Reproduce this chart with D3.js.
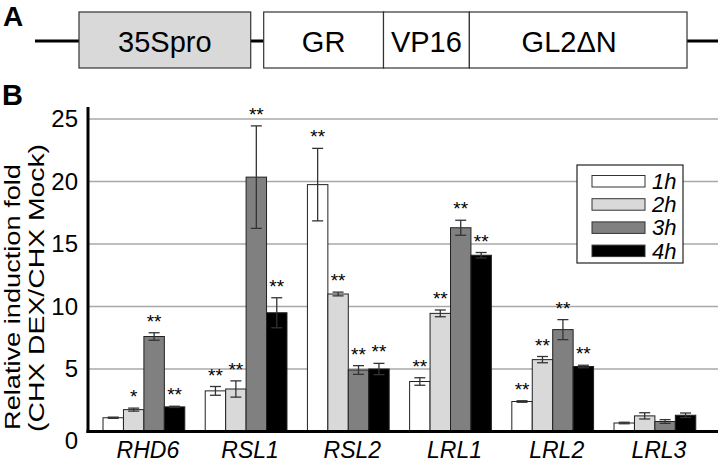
<!DOCTYPE html>
<meta charset="utf-8">
<script src="https://d3js.org/d3.v7.min.js"></script>
<style>
  body { margin: 0; background: #fff; }
  text { font-family: "Liberation Sans", Arial, Helvetica, sans-serif; }
</style>
<div id="chart"></div>
<script>

// construct (panel A): segment names and their relative lengths
var segments = ["35Spro", "GR", "VP16", "GL2\u0394N"];
var segmentLengths = [172, 120, 86, 218];

// panel B data
var genes = ["RHD6", "RSL1", "RSL2", "LRL1", "LRL2", "LRL3"];
var series = ["1h", "2h", "3h", "4h"];

var values1h = [1.1, 3.25, 19.75, 4.0, 2.4, 0.68];
var values2h = [1.75, 3.4, 11.0, 9.45, 5.75, 1.25];
var values3h = [7.6, 20.35, 4.92, 16.3, 8.15, 0.8];
var values4h = [1.97, 9.5, 5.0, 14.1, 5.2, 1.3];

var err1h = [0.05, 0.35, 2.9, 0.3, 0.06, 0.06];
var err2h = [0.12, 0.65, 0.15, 0.27, 0.25, 0.25];
var err3h = [0.3, 4.1, 0.35, 0.6, 0.8, 0.15];
var err4h = [0.05, 1.2, 0.45, 0.22, 0.1, 0.18];

var sig1h = ["", "**", "**", "**", "**", ""];
var sig2h = ["*", "**", "**", "**", "**", ""];
var sig3h = ["**", "**", "**", "**", "**", ""];
var sig4h = ["**", "**", "**", "**", "**", ""];

var yTicks = [0, 5, 10, 15, 20, 25];

var colors = ["#ffffff", "#d9d9d9", "#808080", "#000000"];

var allValues = [values1h, values2h, values3h, values4h];
var allErr = [err1h, err2h, err3h, err4h];
var allSig = [sig1h, sig2h, sig3h, sig4h];

var width = 721, height = 462;

var svg = d3.select("#chart")
  .append("svg")
    .attr("width", width)
    .attr("height", height);

svg.append("rect").attr("width", width).attr("height", height).attr("fill", "#fff");

// ---------- panel A ----------
svg.append("text")
  .attr("x", 3).attr("y", 26)
  .style("font-size", "28px").style("font-weight", "bold")
  .text("A");

var cy = 41, boxTop = 12, boxH = 56;
var totalLen = d3.sum(segmentLengths) + 13;
var xa = d3.scaleLinear().domain([0, totalLen]).range([79, 687]);

// backbone line
svg.append("line").attr("x1", 35).attr("x2", 718).attr("y1", cy).attr("y2", cy)
  .attr("stroke", "#000").attr("stroke-width", 3);

var starts = [0];
var pos = segmentLengths[0] + 13;
for (var i = 1; i < segments.length; i++) { starts.push(pos); pos += segmentLengths[i]; }

segments.forEach(function(s, i) {
  svg.append("rect")
    .attr("x", xa(starts[i]))
    .attr("y", boxTop)
    .attr("width", xa(starts[i] + segmentLengths[i]) - xa(starts[i]))
    .attr("height", boxH)
    .attr("fill", i === 0 ? "#d9d9d9" : "#fff")
    .attr("stroke", "#333").attr("stroke-width", 1.2);
  var cx = (xa(starts[i]) + xa(starts[i] + segmentLengths[i])) / 2;
  if (i === 3) cx -= 9;
  svg.append("text")
    .attr("x", cx).attr("y", 52)
    .attr("text-anchor", "middle")
    .style("font-size", "29px")
    .text(s);
});

// ---------- panel B ----------
svg.append("text")
  .attr("x", 2).attr("y", 105)
  .style("font-size", "29px").style("font-weight", "bold")
  .text("B");

var left = 88, right = 718, bottom = 431.5;
var y = d3.scaleLinear().domain([0, 25]).range([bottom, 119]);
var x0 = d3.scaleBand().domain(genes).range([92.8, 706]).paddingInner(0.2).paddingOuter(0.1);
var x1 = d3.scaleBand().domain(series).range([0, x0.bandwidth()]);

// gridlines
svg.append("g")
  .selectAll("line")
  .data(yTicks.filter(function(d) { return d > 0; }))
  .enter().append("line")
    .attr("x1", left).attr("x2", right)
    .attr("y1", function(d) { return y(d); })
    .attr("y2", function(d) { return y(d); })
    .attr("stroke", "#a8a8a8").attr("stroke-width", 1.5);

// y tick labels
svg.append("g")
  .selectAll("text")
  .data(yTicks)
  .enter().append("text")
    .attr("x", 78)
    .attr("y", function(d) { return y(d) + (d === 0 ? 17 : 8); })
    .attr("text-anchor", "end")
    .style("font-size", "24px")
    .text(function(d) { return d; });

// y title (two lines, stretched like the original)
var yt = svg.append("text")
  .attr("transform", "translate(20,292) rotate(-90)")
  .attr("text-anchor", "middle")
  .style("font-size", "22px");
yt.append("tspan").attr("x", -5).attr("y", 0)
  .attr("textLength", 266).attr("lengthAdjust", "spacingAndGlyphs")
  .text("Relative induction fold");
yt.append("tspan").attr("x", 4).attr("y", 24)
  .attr("textLength", 288).attr("lengthAdjust", "spacingAndGlyphs")
  .text("(CHX DEX/CHX Mock)");

// bars
var rows = [];
genes.forEach(function(g, gi) {
  series.forEach(function(s, si) {
    rows.push({gene: g, s: s, si: si, v: allValues[si][gi], e: allErr[si][gi], sig: allSig[si][gi]});
  });
});

var barG = svg.append("g");
barG.selectAll("rect")
  .data(rows)
  .enter().append("rect")
    .attr("x", function(d) { return x0(d.gene) + x1(d.s); })
    .attr("y", function(d) { return y(d.v); })
    .attr("width", x1.bandwidth())
    .attr("height", function(d) { return bottom - y(d.v); })
    .attr("fill", function(d) { return colors[d.si]; })
    .attr("stroke", "#222").attr("stroke-width", 1);

// error bars
var eb = svg.append("g").attr("stroke", "#333").attr("stroke-width", 1.3);
rows.forEach(function(d) {
  var cx = x0(d.gene) + x1(d.s) + x1.bandwidth() / 2;
  eb.append("line").attr("x1", cx).attr("x2", cx).attr("y1", y(d.v + d.e)).attr("y2", y(d.v - d.e));
  eb.append("line").attr("x1", cx - 5.5).attr("x2", cx + 5.5).attr("y1", y(d.v + d.e)).attr("y2", y(d.v + d.e));
  eb.append("line").attr("x1", cx - 5.5).attr("x2", cx + 5.5).attr("y1", y(d.v - d.e)).attr("y2", y(d.v - d.e));
});

// significance stars
svg.append("g")
  .selectAll("text")
  .data(rows.filter(function(d) { return d.sig; }))
  .enter().append("text")
    .attr("x", function(d) { return x0(d.gene) + x1(d.s) + x1.bandwidth() / 2; })
    .attr("y", function(d) { return y(d.v + d.e) - 5; })
    .attr("text-anchor", "middle")
    .style("font-size", "19px")
    .text(function(d) { return d.sig; });

// axes lines
svg.append("line").attr("x1", left).attr("x2", left).attr("y1", 107).attr("y2", bottom + 1.5)
  .attr("stroke", "#000").attr("stroke-width", 3);
svg.append("line").attr("x1", left - 1.5).attr("x2", right).attr("y1", bottom).attr("y2", bottom)
  .attr("stroke", "#000").attr("stroke-width", 3);

// x labels
svg.append("g")
  .selectAll("text")
  .data(genes)
  .enter().append("text")
    .attr("x", function(d) { return x0(d) + x0.bandwidth() / 2 + 4; })
    .attr("y", 458)
    .attr("text-anchor", "middle")
    .style("font-size", "23px").style("font-style", "italic")
    .text(function(d) { return d; });

// legend
var lg = svg.append("g").attr("transform", "translate(577,165)");
lg.append("rect").attr("width", 106).attr("height", 98)
  .attr("fill", "#fff").attr("stroke", "#222").attr("stroke-width", 1.2);
series.forEach(function(s, i) {
  lg.append("rect")
    .attr("x", 15).attr("y", 10.5 + i * 23.2)
    .attr("width", 53).attr("height", 11.5)
    .attr("fill", colors[i]).attr("stroke", "#333").attr("stroke-width", 1);
  lg.append("text")
    .attr("x", 75).attr("y", 24 + i * 23.2)
    .style("font-size", "22px").style("font-style", "italic")
    .text(s);
});

</script>
